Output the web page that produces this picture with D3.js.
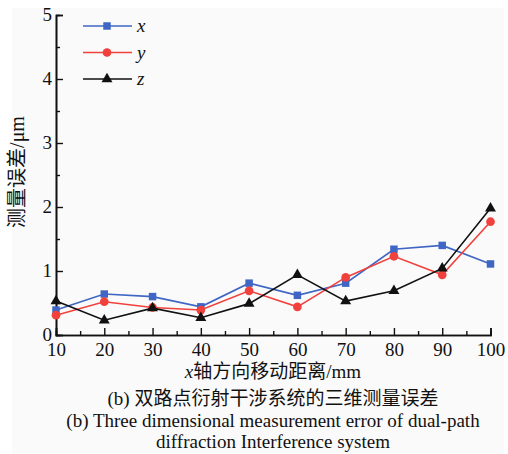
<!DOCTYPE html>
<html>
<head>
<meta charset="utf-8">
<script src="https://cdn.jsdelivr.net/npm/d3@7/dist/d3.min.js"></script>
<style>
body{margin:0;background:#fff;}
</style>
</head>
<body>
<div id="chart"></div>
<script>
let distances=[10,20,30,40,50,60,70,80,90,100];
let xErr=[0.39,0.64,0.60,0.44,0.81,0.62,0.81,1.34,1.40,1.11];
let yErr=[0.31,0.52,0.43,0.39,0.69,0.44,0.90,1.23,0.94,1.77];
let zErr=[0.53,0.23,0.42,0.27,0.49,0.94,0.53,0.69,1.04,1.98];
let seriesNames=["x","y","z"];
let yTicks=[0,1,2,3,4,5];

let font="'Liberation Serif','Noto Sans CJK SC',serif";
let width=508, height=454;
let svg=d3.select("#chart").append("svg").attr("width",width).attr("height",height)
	.style("font-family",font);

// light grey figure background
svg.append("rect").attr("x",12).attr("y",8).attr("width",492).attr("height",446).attr("fill","#fafafa");

let x=d3.scaleLinear().domain([10,100]).range([56,490.5]);
let y=d3.scaleLinear().domain([0,5]).range([335,15]);

// axes, ticks pointing inward
let xAxis=svg.append("g").attr("transform","translate(0,335)")
	.call(d3.axisBottom(x).tickValues(distances).tickSize(-7).tickPadding(8).tickFormat(d3.format("d")));
svg.append("g").attr("transform","translate(0,335)")
	.call(d3.axisBottom(x).tickValues(d3.range(15,100,10)).tickSize(-4).tickFormat(""));
let yAxis=svg.append("g").attr("transform","translate(56,0)")
	.call(d3.axisLeft(y).tickValues(yTicks).tickSize(-7).tickPadding(4).tickFormat(d3.format("d")));
svg.append("g").attr("transform","translate(56,0)")
	.call(d3.axisLeft(y).tickValues(d3.range(0.5,5,1)).tickSize(-4).tickFormat(""));

svg.selectAll("g").attr("font-family",null);
svg.selectAll(".domain").attr("stroke","#111").attr("stroke-width",1.6);
svg.selectAll(".tick line").attr("stroke","#111").attr("stroke-width",1.4);
svg.selectAll(".tick text").style("font-size","19px").style("font-family",font).attr("fill","#111");
yAxis.selectAll(".tick text").attr("dy","0.3em");

let series=[
	{name:"x",values:xErr,color:"#3f66c4",shape:d3.symbolSquare,size:56},
	{name:"y",values:yErr,color:"#f0413c",shape:d3.symbolCircle,size:60},
	{name:"z",values:zErr,color:"#111111",shape:d3.symbolTriangle,size:52}
];

let line=d3.line().x((d,i)=>x(distances[i])).y(d=>y(d));

series.forEach(s=>{
	svg.append("path").datum(s.values).attr("d",line)
		.attr("fill","none").attr("stroke",s.color).attr("stroke-width",1.6);
	svg.selectAll(null).data(s.values).join("path")
		.attr("transform",(d,i)=>"translate("+x(distances[i])+","+y(d)+")")
		.attr("d",d3.symbol().type(s.shape).size(s.size))
		.attr("fill",s.color);
});

// legend
let legend=svg.append("g");
series.forEach((s,i)=>{
	let ly=26+i*26.5;
	legend.append("line").attr("x1",83).attr("x2",132).attr("y1",ly).attr("y2",ly)
		.attr("stroke",s.color).attr("stroke-width",1.6);
	legend.append("path").attr("transform","translate(107,"+ly+")")
		.attr("d",d3.symbol().type(s.shape).size(s.size)).attr("fill",s.color);
	legend.append("text").attr("x",137).attr("y",ly).attr("dy","0.32em")
		.style("font-size","19px").style("font-style","italic").attr("fill","#111").text(s.name);
});

// axis titles
let xt=svg.append("text").attr("x",273).attr("y",378).attr("text-anchor","middle")
	.style("font-size","19px").attr("fill","#111");
xt.append("tspan").style("font-style","italic").text("x");
xt.append("tspan").text("轴方向移动距离/mm");

svg.append("text").attr("transform","translate(24,172) rotate(-90)").attr("text-anchor","middle")
	.style("font-size","20px").attr("fill","#111").text("测量误差/μm");

// caption
let caption=["(b) 双路点衍射干涉系统的三维测量误差",
	"(b) Three dimensional measurement error of dual-path",
	"diffraction Interference system"];
caption.forEach((c,i)=>{
	svg.append("text").attr("x",273).attr("y",405+i*21.5).attr("text-anchor","middle")
		.style("font-size","19px").attr("fill","#111").text(c);
});
</script>
</body>
</html>
